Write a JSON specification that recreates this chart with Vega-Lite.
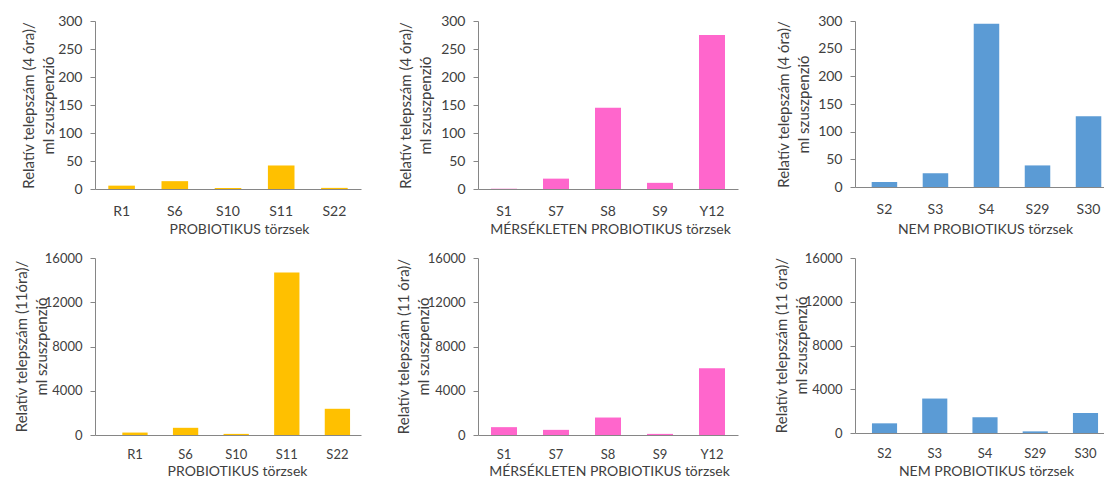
{
  "$schema": "https://vega.github.io/schema/vega-lite/v6.json",
  "padding": {"left": 14, "top": 14, "right": 0, "bottom": 0},
  "background": "white",
  "config": {
    "view": {"stroke": null},
    "font": "Lato",
    "scale": {"bandPaddingInner": 0.5, "bandPaddingOuter": 0.25},
    "axis": {
      "grid": false,
      "domainColor": "#868686",
      "tickColor": "#868686",
      "labelColor": "#404040",
      "titleColor": "#404040",
      "labelFont": "Lato",
      "titleFont": "Lato",
      "labelFontSize": 14,
      "titleFontSize": 14,
      "titleFontWeight": "normal",
      "titleLineHeight": 20
    },
    "axisX": {"ticks": false, "tickSize": 0, "labelAngle": 0, "labelBaseline": "middle", "titleBaseline": "middle", "titleAlign": "center"},
    "axisY": {"tickSize": 5, "labelPadding": 8, "titleBaseline": "middle", "titleAlign": "center", "titleAngle": 270, "titleFontSize": 15}
  },
  "columns": 3,
  "spacing": {"row": 69, "column": 117},
  "bounds": "flush",
  "concat": [
    {
      "width": 266, "height": 168,
      "data": {"values": [
        {"strain": "R1", "value": 6}, {"strain": "S6", "value": 14}, {"strain": "S10", "value": 2},
        {"strain": "S11", "value": 42}, {"strain": "S22", "value": 2}]},
      "mark": {"type": "bar", "color": "#FFC000"},
      "encoding": {
        "x": {"field": "strain", "type": "nominal", "sort": null,
          "axis": {"title": "PROBIOTIKUS törzsek", "labelPadding": 22, "titleX": 144, "titleY": 40}},
        "y": {"field": "value", "type": "quantitative", "scale": {"domain": [0, 300]},
          "axis": {"values": [0, 50, 100, 150, 200, 250, 300], "title": ["Relatív telepszám (4 óra)/", "ml szuszpenzió"], "titleX": -67, "titleY": 84}}
      }
    },
    {
      "width": 260, "height": 168,
      "data": {"values": [
        {"strain": "S1", "value": 0.5}, {"strain": "S7", "value": 18.5}, {"strain": "S8", "value": 145},
        {"strain": "S9", "value": 11}, {"strain": "Y12", "value": 275}]},
      "mark": {"type": "bar", "color": "#FF66CC"},
      "encoding": {
        "x": {"field": "strain", "type": "nominal", "sort": null,
          "axis": {"title": "MÉRSÉKLETEN PROBIOTIKUS törzsek", "labelPadding": 22, "titleX": 132, "titleY": 40}},
        "y": {"field": "value", "type": "quantitative", "scale": {"domain": [0, 300]},
          "axis": {"values": [0, 50, 100, 150, 200, 250, 300], "title": ["Relatív telepszám (4 óra)/", "ml szuszpenzió"], "titleX": -73, "titleY": 84}}
      }
    },
    {
      "width": 249, "height": 166,
      "data": {"values": [
        {"strain": "S2", "value": 9}, {"strain": "S3", "value": 25}, {"strain": "S4", "value": 295},
        {"strain": "S29", "value": 39}, {"strain": "S30", "value": 128}]},
      "mark": {"type": "bar", "color": "#5B9BD5"},
      "encoding": {
        "x": {"field": "strain", "type": "nominal", "sort": null,
          "scale": {"paddingInner": 0.5, "paddingOuter": 0.19, "align": 0.86},
          "axis": {"title": "NEM PROBIOTIKUS törzsek", "labelPadding": 22, "titleX": 130, "titleY": 42}},
        "y": {"field": "value", "type": "quantitative", "scale": {"domain": [0, 300]},
          "axis": {"values": [0, 50, 100, 150, 200, 250, 300], "title": ["Relatív telepszám (4 óra)/", "ml szuszpenzió"], "titleX": -72, "titleY": 83}}
      }
    },
    {
      "width": 266, "height": 177,
      "data": {"values": [
        {"strain": "R1", "value": 220}, {"strain": "S6", "value": 650}, {"strain": "S10", "value": 100},
        {"strain": "S11", "value": 14700}, {"strain": "S22", "value": 2370}]},
      "mark": {"type": "bar", "color": "#FFC000"},
      "encoding": {
        "x": {"field": "strain", "type": "nominal", "sort": null,
          "scale": {"paddingInner": 0.5, "paddingOuter": 0.378, "align": 0.714},
          "axis": {"title": "PROBIOTIKUS törzsek", "labelFontSize": 13, "labelPadding": 19, "titleX": 142, "titleY": 36}},
        "y": {"field": "value", "type": "quantitative", "scale": {"domain": [0, 16000]},
          "axis": {"values": [0, 4000, 8000, 12000, 16000], "format": "d", "labelFontSize": 13, "title": ["Relatív telepszám (11óra)/", "ml szuszpenzió"], "titleX": -74, "titleY": 88}}
      }
    },
    {
      "width": 260, "height": 177,
      "data": {"values": [
        {"strain": "S1", "value": 710}, {"strain": "S7", "value": 465}, {"strain": "S8", "value": 1580},
        {"strain": "S9", "value": 100}, {"strain": "Y12", "value": 6030}]},
      "mark": {"type": "bar", "color": "#FF66CC"},
      "encoding": {
        "x": {"field": "strain", "type": "nominal", "sort": null,
          "axis": {"title": "MÉRSÉKLETEN PROBIOTIKUS törzsek", "labelFontSize": 13, "labelPadding": 19, "titleX": 131, "titleY": 36}},
        "y": {"field": "value", "type": "quantitative", "scale": {"domain": [0, 16000]},
          "axis": {"values": [0, 4000, 8000, 12000, 16000], "format": "d", "labelFontSize": 13, "title": ["Relatív telepszám (11 óra)/", "ml szuszpenzió"], "titleX": -75, "titleY": 88}}
      }
    },
    {
      "width": 249, "height": 175,
      "data": {"values": [
        {"strain": "S2", "value": 884}, {"strain": "S3", "value": 3150}, {"strain": "S4", "value": 1444},
        {"strain": "S29", "value": 150}, {"strain": "S30", "value": 1827}]},
      "mark": {"type": "bar", "color": "#5B9BD5"},
      "encoding": {
        "x": {"field": "strain", "type": "nominal", "sort": null,
          "scale": {"paddingInner": 0.5, "paddingOuter": 0.228, "align": 0.74},
          "axis": {"title": "NEM PROBIOTIKUS törzsek", "labelFontSize": 13, "labelPadding": 20, "titleX": 131, "titleY": 38}},
        "y": {"field": "value", "type": "quantitative", "scale": {"domain": [0, 16000]},
          "axis": {"values": [0, 4000, 8000, 12000, 16000], "format": "d", "labelFontSize": 13, "title": ["Relatív telepszám (11 óra)/", "ml szuszpenzió"], "titleX": -74, "titleY": 87}}
      }
    }
  ]
}
